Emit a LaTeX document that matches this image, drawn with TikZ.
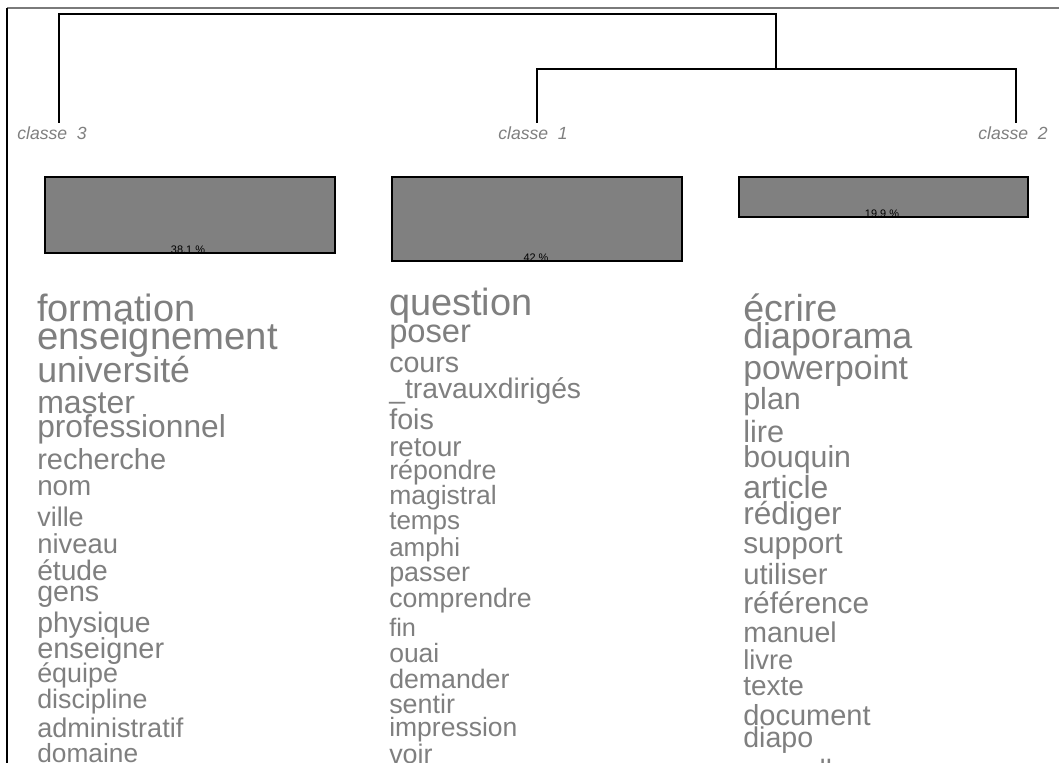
\documentclass[tikz,border=0pt]{standalone}
\usepackage{fontspec}
\setmainfont{Liberation Sans}
\definecolor{wordgray}{HTML}{7F7F7F}
\definecolor{barfill}{HTML}{808080}
\definecolor{framegray}{HTML}{7A7A7A}
\begin{document}
\begin{tikzpicture}[x=0.75pt,y=-0.75pt,
  word/.style={anchor=base west, inner sep=0pt, text=wordgray},
  classlbl/.style={anchor=base, inner sep=0pt, text=wordgray, font=\fontsize{13.2}{13.2}\selectfont\itshape},
  dendro/.style={line width=1.2pt, black},
  bar/.style={fill=barfill, draw=black, line width=1.1pt},
  pct/.style={anchor=base, inner sep=0pt, text=black, font=\fontsize{8.2}{8.2}\selectfont}]
\useasboundingbox (0,0) rectangle (1059,763);
\clip (0,0) rectangle (1059,763);
% window frame
\draw[framegray, line width=1.5pt] (7,8) -- (1059,8);
\draw[black, line width=1.1pt] (7,8) -- (7,763);
% dendrogram
\coordinate (leaf3) at (59,123);
\coordinate (leaf1) at (537,123);
\coordinate (leaf2) at (1016,123);
\coordinate (root) at (776,14);
\coordinate (join12) at (776,69);
\draw[dendro] (leaf3) |- (root) -- (join12);
\draw[dendro] (leaf1) |- (join12) -| (leaf2);
\node[classlbl] (cl3) at (52,140) {classe\hspace{0.55em}3};
\node[classlbl] (cl1) at (533,140) {classe\hspace{0.55em}1};
\node[classlbl] (cl2) at (1013,140) {classe\hspace{0.55em}2};
% bars
\filldraw[bar] (45,177) rectangle (335,253);
\node[pct] (p3) at (188,253) {38.1 \%};
\filldraw[bar] (392,177) rectangle (682,261);
\node[pct] (p1) at (536,261) {42 \%};
\filldraw[bar] (739,177) rectangle (1028,217);
\node[pct] (p2) at (882,217) {19.9 \%};
% column classe 3
\foreach \w/\b/\s [count=\i] in {formation/321/38,enseignement/349/38.3,université/382/35.7,master/413/32,professionnel/437/31.7,recherche/469/29,nom/495/27.8,ville/526/27,niveau/553/27.4,étude/580/28.2,gens/601/28.6,physique/632/28.3,enseigner/658/28.9,équipe/682/26.9,discipline/708/26.8,administratif/737/27.1,domaine/762/26.3}{
  \pgfmathsetmacro\fs{\s*0.75}
  \node[word] (wa\i) at (37,\b) {\fontsize{\fs}{\fs}\selectfont \w};
}
% column classe 1
\foreach \w/\b/\s [count=\i] in {question/315/37.9,poser/342/32.7,cours/372/28.6,\_travauxdirigés/398/28.3,fois/429/28.7,retour/456/27.7,répondre/479/26.8,magistral/504/26.5,temps/529/26,amphi/556/26,passer/581/26.9,comprendre/607/26.7,fin/636/25.3,ouai/662/26.5,demander/688/26.7,sentir/713/26.9,impression/736/26.5,voir/763/26.9}{
  \pgfmathsetmacro\fs{\s*0.75}
  \node[word] (wb\i) at (389,\b) {\fontsize{\fs}{\fs}\selectfont \w};
}
% column classe 2
\foreach \w/\b/\s [count=\i] in {écrire/321/37.6,diaporama/348/35.8,powerpoint/379/33.7,plan/409/30.5,lire/442/30.7,bouquin/467/30.3,article/498/31.9,rédiger/524/31.6,support/553/29.8,utiliser/584/29.2,référence/613/29.8,manuel/642/28.5,livre/669/27.3,texte/695/28,document/725/29,diapo/747/28.6,nouvelle/779/28}{
  \pgfmathsetmacro\fs{\s*0.75}
  \node[word] (wc\i) at (743,\b) {\fontsize{\fs}{\fs}\selectfont \w};
}
\end{tikzpicture}
\end{document}
